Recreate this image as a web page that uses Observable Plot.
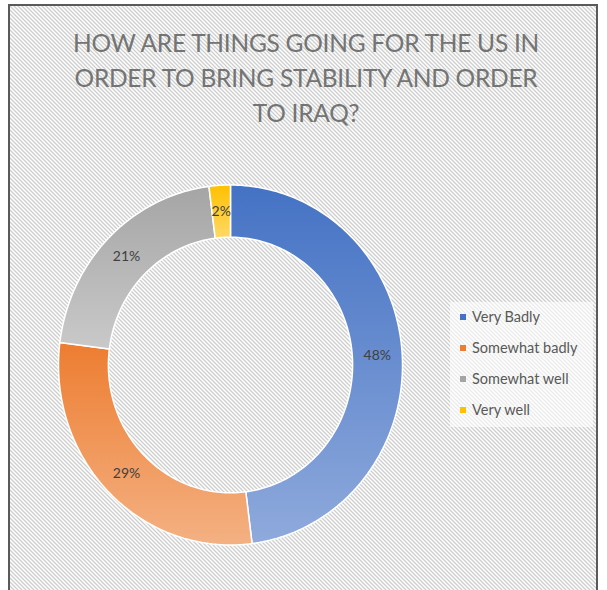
<!DOCTYPE html>
<html>
<head>
<meta charset="utf-8">
<script src="https://cdn.jsdelivr.net/npm/d3@7"></script>
<script src="https://cdn.jsdelivr.net/npm/@observablehq/plot@0.6"></script>
<style>
  html, body { margin: 0; padding: 0; background: #fff; }
  #wrap { position: relative; width: 607px; height: 590px; overflow: hidden; }
  #frame {
    position: absolute; left: 8px; top: 4px; width: 586px; height: 600px;
    border: 2px solid #5a5a5a; border-bottom: none;
    background-color: #ffffff;
    background-image: url("data:image/svg+xml,%3Csvg xmlns='http://www.w3.org/2000/svg' width='4' height='4'%3E%3Cpath d='M-1,-1L5,5M-1,3L1,5M3,-1L5,1' stroke='%23cdcdcd' stroke-width='1.3'/%3E%3C/svg%3E");
    background-size: 4px 4px;
  }
  #title {
    position: absolute; left: 9px; width: 594px; top: 25px;
    text-align: center; font-family: Lato, "Open Sans", sans-serif;
    font-size: 24.5px; line-height: 35px; color: #747474; letter-spacing: -0.25px;
  }
  #legendBox {
    position: absolute; left: 450px; top: 302px; width: 143px; height: 125px;
    background: rgba(255,255,255,0.6);
  }
  .item { position: absolute; left: 460px; font-family: Lato, "Open Sans", sans-serif; font-size: 14.5px; color: #595959; line-height: 16px; }
  .item span.sw { display: inline-block; width: 6px; height: 6px; margin-right: 6px; vertical-align: middle; position: relative; top: -1px; }
  #plot { position: absolute; left: 0; top: 0; }
</style>
</head>
<body>
<svg width="0" height="0" style="position:absolute">
  <defs id="gdefs"></defs>
</svg>
<div id="wrap">
  <div id="frame"></div>
  <div id="title">HOW ARE THINGS GOING FOR THE US IN<br>ORDER TO BRING STABILITY AND ORDER<br>TO IRAQ?</div>
  <div id="legendBox"></div>
  <div id="legend"></div>
  <div id="plot"></div>
</div>
<script>
// ---- data ----
const categories = ["Very Badly", "Somewhat badly", "Somewhat well", "Very well"];
const values = [48, 29, 21, 2];
const labels = ["48%", "29%", "21%", "2%"];
// ---- styles ----
const colorTop = ["#4472C4", "#ED7D31", "#A5A5A5", "#FFC000"];
const colorBottom = ["#8FAADC", "#F4B183", "#C9C9C9", "#FFD966"];
const swatch = ["#4472C4", "#ED7D31", "#A5A5A5", "#FFC000"];
const innerRatio = 0.71;

// gradients
const defs = d3.select("#gdefs");
colorTop.forEach((c, i) => {
  const g = defs.append("linearGradient").attr("id", "grad" + i)
    .attr("x1", 0).attr("y1", 0).attr("x2", 0).attr("y2", 1);
  g.append("stop").attr("offset", "0%").attr("stop-color", c);
  g.append("stop").attr("offset", "100%").attr("stop-color", colorBottom[i]);
});

// arcs built from the data
const total = d3.sum(values);
let acc = 0;
const slices = values.map((v, i) => {
  const a0 = acc / total * 2 * Math.PI;
  acc += v;
  const a1 = acc / total * 2 * Math.PI;
  const n = Math.max(8, Math.ceil(v * 3));
  const pts = [];
  for (let k = 0; k <= n; k++) {
    const a = a0 + (a1 - a0) * k / n;
    pts.push({x: Math.sin(a), y: Math.cos(a)});
  }
  for (let k = n; k >= 0; k--) {
    const a = a0 + (a1 - a0) * k / n;
    pts.push({x: innerRatio * Math.sin(a), y: innerRatio * Math.cos(a)});
  }
  pts.push(pts[0]);
  const am = (a0 + a1) / 2, rm = (1 + innerRatio) / 2;
  return {i, pts, label: {x: rm * Math.sin(am), y: rm * Math.cos(am), text: labels[i]}};
});

const marks = slices.map(s => Plot.line(s.pts, {
  x: "x", y: "y", fill: `url(#grad${s.i})`, stroke: "white", strokeWidth: 1.5, strokeLinejoin: "miter"
}));
marks.push(Plot.text(slices.map(s => s.label), {
  x: "x", y: "y", text: "text", fill: "#404040", fontSize: 14,
  fontFamily: "Lato, 'Open Sans', sans-serif"
}));

const chart = Plot.plot({
  width: 607, height: 590, margin: 0,
  x: {domain: [-1, 1], range: [58, 402], axis: null},
  y: {domain: [-1, 1], range: [544.5, 184.5], axis: null},
  style: {background: "transparent"},
  marks
});
document.getElementById("plot").appendChild(chart);

// legend
const legend = d3.select("#legend");
categories.forEach((c, i) => {
  const it = legend.append("div").attr("class", "item").style("top", (302 + 7 + i * 31) + "px");
  it.append("span").attr("class", "sw").style("background", swatch[i]);
  it.append("span").text(c);
});
</script>
</body>
</html>
